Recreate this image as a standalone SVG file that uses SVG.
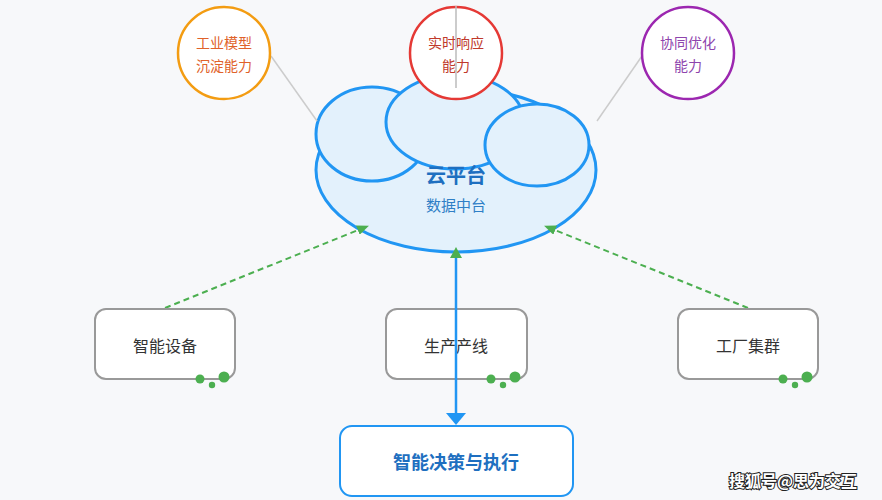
<svg xmlns="http://www.w3.org/2000/svg" width="882" height="500" viewBox="0 0 882 500">
<defs>
<style>
text{font-family:"Noto Sans CJK SC","Noto Sans",sans-serif;text-anchor:middle;dominant-baseline:central}
.cl{fill:#e3f1fc;stroke:#2196f3;stroke-width:3}
.box{fill:#ffffff;stroke:#999999;stroke-width:2}
.bt{font-size:16px;fill:#333333}
.dot{fill:#4caf50}
.dash{stroke:#4caf50;stroke-width:2;stroke-dasharray:6 4;fill:none}
.gl{stroke:#cccccc;stroke-width:1.5}
.ct{font-size:14px}
</style>
<marker id="ga" viewBox="0 0 12 10" refX="11" refY="5" markerWidth="12" markerHeight="10" orient="auto" markerUnits="userSpaceOnUse"><path d="M0,0L12,5L0,10z" fill="#4caf50"/></marker>
</defs>
<rect width="882" height="500" fill="#f7f8fa"/>
<g id="cloud">
<ellipse class="cl" cx="456" cy="170" rx="140" ry="82"/>
<ellipse class="cl" cx="372" cy="134" rx="56" ry="47"/>
<ellipse class="cl" cx="455" cy="122" rx="69" ry="47"/>
<ellipse class="cl" cx="537" cy="145" rx="52" ry="41"/>
<text x="456" y="174" style="font-size:20px;font-weight:bold;fill:#1e6fc0">云平台</text>
<text x="456" y="204" style="font-size:15px;fill:#2f7fc6">数据中台</text>
</g>
<g id="connectors">
<line class="gl" x1="271" y1="56" x2="317" y2="121"/>
<line class="gl" x1="642" y1="56" x2="597" y2="121"/>
<line class="dash" x1="165" y1="308" x2="368" y2="226" marker-end="url(#ga)"/>
<line class="dash" x1="748" y1="308" x2="545" y2="226" marker-end="url(#ga)"/>
</g>
<g id="c1">
<circle cx="224" cy="53" r="46" fill="#ffffff" stroke="#f39c12" stroke-width="2.5"/>
<text class="ct" x="224" y="42" fill="#e0622a">工业模型</text>
<text class="ct" x="224" y="65" fill="#e0622a">沉淀能力</text>
</g>
<g id="c2">
<circle cx="456" cy="53" r="46" fill="#ffffff" stroke="#e53935" stroke-width="2.5"/>
<text class="ct" x="456" y="42" fill="#c0392b">实时响应</text>
<text class="ct" x="456" y="65" fill="#c0392b">能力</text>
<line x1="456" y1="6" x2="456" y2="88" stroke="#bbbbbb" stroke-width="1.5"/>
</g>
<g id="c3">
<circle cx="688" cy="53" r="46" fill="#ffffff" stroke="#9c27b0" stroke-width="2.5"/>
<text class="ct" x="688" y="42" fill="#8e44ad">协同优化</text>
<text class="ct" x="688" y="65" fill="#8e44ad">能力</text>
</g>
<g id="n1">
<rect class="box" x="95" y="309" width="140" height="70" rx="11"/>
<text class="bt" x="165" y="345">智能设备</text>
<circle class="dot" cx="200" cy="379" r="4.5"/><circle class="dot" cx="224" cy="377" r="5.5"/><circle class="dot" cx="212" cy="385" r="3.2"/>
</g>
<g id="n2">
<rect class="box" x="386" y="309" width="141" height="70" rx="11"/>
<text class="bt" x="456" y="345">生产产线</text>
<circle class="dot" cx="491" cy="379" r="4.5"/><circle class="dot" cx="515" cy="377" r="5.5"/><circle class="dot" cx="503" cy="385" r="3.2"/>
</g>
<g id="n3">
<rect class="box" x="678" y="309" width="140" height="70" rx="11"/>
<text class="bt" x="748" y="345">工厂集群</text>
<circle class="dot" cx="783" cy="379" r="4.5"/><circle class="dot" cx="807" cy="377" r="5.5"/><circle class="dot" cx="795" cy="385" r="3.2"/>
</g>
<g id="vline">
<line x1="456" y1="256" x2="456" y2="414" stroke="#2196f3" stroke-width="2.5"/>
<path d="M456,247L450,258L462,258z" fill="#4caf50"/>
<path d="M446,413L466,413L456,425z" fill="#2196f3"/>
</g>
<g id="n4">
<rect x="340" y="426" width="233" height="70" rx="12" fill="#ffffff" stroke="#2196f3" stroke-width="2"/>
<text x="456" y="461" style="font-size:18px;font-weight:bold;fill:#1e6fc0">智能决策与执行</text>
</g>
<text x="793" y="480" style="font-size:16px;font-weight:bold;fill:#ffffff;stroke:#222222;stroke-width:2;paint-order:stroke">搜狐号@思为交互</text>
</svg>
